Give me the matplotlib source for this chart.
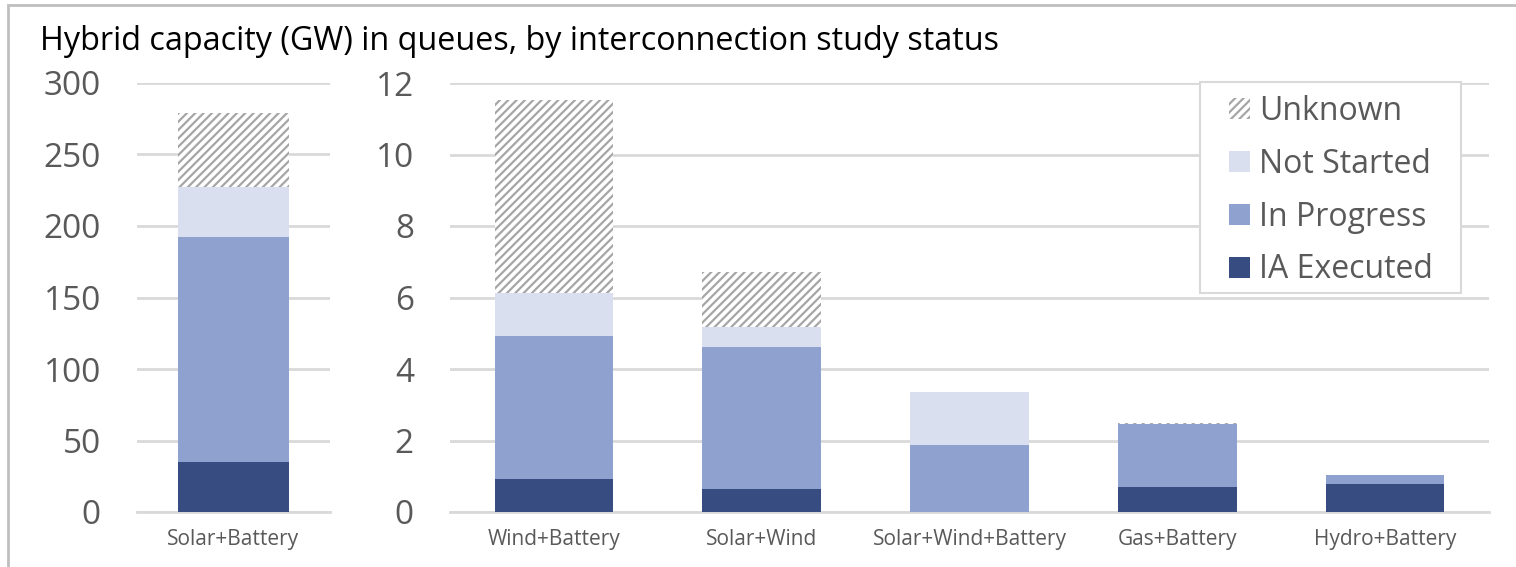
import numpy as np
import matplotlib
matplotlib.use('Agg')
import matplotlib.pyplot as plt
from matplotlib.patches import Patch, Rectangle

plt.rcParams['font.family'] = ['Open Sans', 'DejaVu Sans']
plt.rcParams['hatch.linewidth'] = 1.6

# data (GW)
big_cat = ['Solar+Battery']
big_ia = [35]
big_prog = [157]
big_notstarted = [35]
big_unknown = [52]

cats = ['Wind+Battery', 'Solar+Wind', 'Solar+Wind+Battery', 'Gas+Battery', 'Hydro+Battery']
ia_exec = [0.92, 0.64, 0.0, 0.70, 0.77]
in_prog = [4.00, 3.98, 1.87, 1.77, 0.26]
not_started = [1.21, 0.55, 1.49, 0.0, 0.0]
unknown = [5.39, 1.54, 0.0, 0.02, 0.0]

status = ['IA Executed', 'In Progress', 'Not Started', 'Unknown']
colors = ['#374C80', '#8FA2CF', '#D9DFEF', 'white']
hatch_col = '#A6A6A6'
grid_col = '#D9D9D9'
txt_col = '#595959'

W, H = 1516, 567
fig = plt.figure(figsize=(W / 100, H / 100), dpi=100)

# outer frame like the excel chart area
fig.add_artist(Rectangle((8 / W, -0.1), 1.2, (567 - 5) / H + 0.1, transform=fig.transFigure,
                         fill=False, edgecolor='#BFBFBF', linewidth=2))

ax1 = fig.add_axes([137 / W, 55 / H, 193 / W, 429 / H])
ax2 = fig.add_axes([450 / W, 55 / H, 1039 / W, 429 / H])


def stack(ax, x, series, width):
    bottom = np.zeros(len(x))
    for vals, col, name in zip(series, colors, status):
        vals = np.array(vals, dtype=float)
        if name == 'Unknown':
            ax.bar(x, vals, width, bottom=bottom, color='white', edgecolor=hatch_col,
                   hatch='////', linewidth=0, zorder=3)
        else:
            ax.bar(x, vals, width, bottom=bottom, color=col, linewidth=0, zorder=3)
        bottom += vals


stack(ax1, np.arange(1), [big_ia, big_prog, big_notstarted, big_unknown], 0.58)
stack(ax2, np.arange(len(cats)), [ia_exec, in_prog, not_started, unknown], 0.57)

ax1.set_xlim(-0.5, 0.5)
ax1.set_ylim(0, 300)
ax1.set_yticks(range(0, 301, 50))
ax1.set_xticks([0])
ax1.set_xticklabels(big_cat)

ax2.set_xlim(-0.5, len(cats) - 0.5)
ax2.set_ylim(0, 12)
ax2.set_yticks(range(0, 13, 2))
ax2.set_xticks(np.arange(len(cats)))
ax2.set_xticklabels(cats)

for ax in (ax1, ax2):
    for s in ax.spines.values():
        s.set_visible(False)
    ax.yaxis.grid(True, color=grid_col, linewidth=2, zorder=0)
    ax.set_axisbelow(True)
    ax.tick_params(axis='y', length=0, pad=26, labelsize=24, labelcolor=txt_col)
    ax.tick_params(axis='x', length=0, pad=12, labelsize=15, labelcolor=txt_col)
    ax.spines['bottom'].set_visible(True)
    ax.spines['bottom'].set_color(grid_col)
    ax.spines['bottom'].set_linewidth(2)

fig.text(40 / W, 1 - 41 / H, 'Hybrid capacity (GW) in queues, by interconnection study status',
         fontsize=23.3, color='black', va='center', ha='left')

# legend box drawn separately so its size matches the original
fig.add_artist(Rectangle((1200 / W, 1 - 293 / H), 261 / W, 211 / H, transform=fig.transFigure,
                         facecolor='white', edgecolor='#D9D9D9', linewidth=1.5, zorder=5))
handles = [Patch(facecolor='white', edgecolor=hatch_col, hatch='////', linewidth=0),
           Patch(facecolor=colors[2]),
           Patch(facecolor=colors[1]),
           Patch(facecolor=colors[0])]
leg = fig.legend(handles, ['Unknown', 'Not Started', 'In Progress', 'IA Executed'],
                 loc='upper left', bbox_to_anchor=(1229 / W, 1 - 95 / H),
                 fontsize=23, frameon=False,
                 handlelength=0.65, handleheight=0.65, handletextpad=0.3,
                 labelspacing=0.62, borderpad=0, borderaxespad=0, labelcolor=txt_col)
leg.set_zorder(6)

fig.savefig('out.png', dpi=100)
